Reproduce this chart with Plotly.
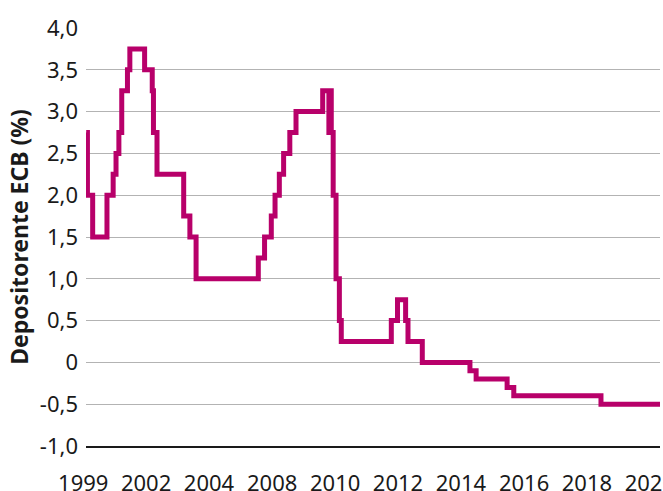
import plotly.graph_objects as go

# ECB deposit facility rate: change dates and new rate (%)
change_dates = ["1999-01-04", "1999-01-22", "1999-04-09", "1999-11-05", "2000-02-04",
                "2000-03-17", "2000-04-28", "2000-06-09", "2000-09-01", "2000-10-06",
                "2001-05-11", "2001-08-31", "2001-09-18", "2001-11-09", "2002-12-06",
                "2003-03-07", "2003-06-06", "2005-12-06", "2006-03-08", "2006-06-15",
                "2006-08-09", "2006-10-11", "2006-12-13", "2007-03-14", "2007-06-13",
                "2008-07-09", "2008-10-08", "2008-10-09", "2008-11-12", "2008-12-10",
                "2009-01-21", "2009-03-11", "2009-04-08", "2011-04-13", "2011-07-13",
                "2011-11-09", "2011-12-14", "2012-07-11", "2014-06-11", "2014-09-10",
                "2015-12-09", "2016-03-16", "2019-09-18", "2022-02-01"]
rates = [2.75, 2.0, 1.5, 2.0, 2.25,
         2.5, 2.75, 3.25, 3.5, 3.75,
         3.5, 3.25, 2.75, 2.25, 1.75,
         1.5, 1.0, 1.25, 1.5, 1.75,
         2.0, 2.25, 2.5, 2.75, 3.0,
         3.25, 2.75, 3.25, 2.75, 2.0,
         1.0, 0.5, 0.25, 0.5, 0.75,
         0.5, 0.25, 0.0, -0.1, -0.2,
         -0.3, -0.4, -0.5, -0.5]

# x tick labels as printed on the original chart
x_tick_labels = ["1999", "2002", "2004", "2008", "2010", "2012", "2014", "2016", "2018", "2020"]
x_tick_dates = ["1999-01-05", "2001-07-16", "2004-01-26", "2006-08-11", "2009-02-21",
                "2011-09-02", "2014-03-14", "2016-09-27", "2019-04-08", "2021-10-19"]

y_tick_vals = [4.0, 3.5, 3.0, 2.5, 2.0, 1.5, 1.0, 0.5, 0.0, -0.5, -1.0]
y_tick_labels = ["4,0", "3,5", "3,0", "2,5", "2,0", "1,5", "1,0", "0,5", "0", "-0,5", "-1,0"]

y_title = "Depositorente ECB (%)"

FONT = "Noto Sans"
TXT = "#1a1a1a"

fig = go.Figure()
fig.add_trace(go.Scatter(
    x=change_dates, y=rates, mode="lines",
    line=dict(color="#b8006a", width=5, shape="hv"),
    showlegend=False, hoverinfo="skip",
))

fig.update_layout(
    width=663, height=491,
    margin=dict(l=86, r=3, t=28, b=45),
    paper_bgcolor="white", plot_bgcolor="white",
    font=dict(family=FONT, size=22, color=TXT),
    xaxis=dict(
        type="date",
        range=["1999-01-01", "2022-02-01"],
        tickvals=x_tick_dates, ticktext=x_tick_labels,
        ticklabelshift=-3, ticklabeloverflow="allow",
        automargin=False,
        showgrid=False, zeroline=False,
        showline=True, linecolor="#1a1a1a", linewidth=2,
        ticks="", ticklabelstandoff=17,
        tickfont=dict(family=FONT, size=22, color=TXT),
    ),
    yaxis=dict(
        range=[-1.0, 4.0],
        tickvals=y_tick_vals, ticktext=y_tick_labels,
        showgrid=True, gridcolor="#b3b3b3", gridwidth=1,
        zeroline=False, showline=False, automargin=False,
        ticks="", ticklabelstandoff=7,
        tickfont=dict(family=FONT, size=22, color=TXT),
        title=dict(text=y_title, standoff=4,
                   font=dict(family=FONT, size=23, color=TXT, weight="bold")),
    ),
)

fig.write_html(
    "out.html",
    config={"displayModeBar": False},
    post_script="document.body.style.margin='0';document.body.style.overflow='hidden';",
)
